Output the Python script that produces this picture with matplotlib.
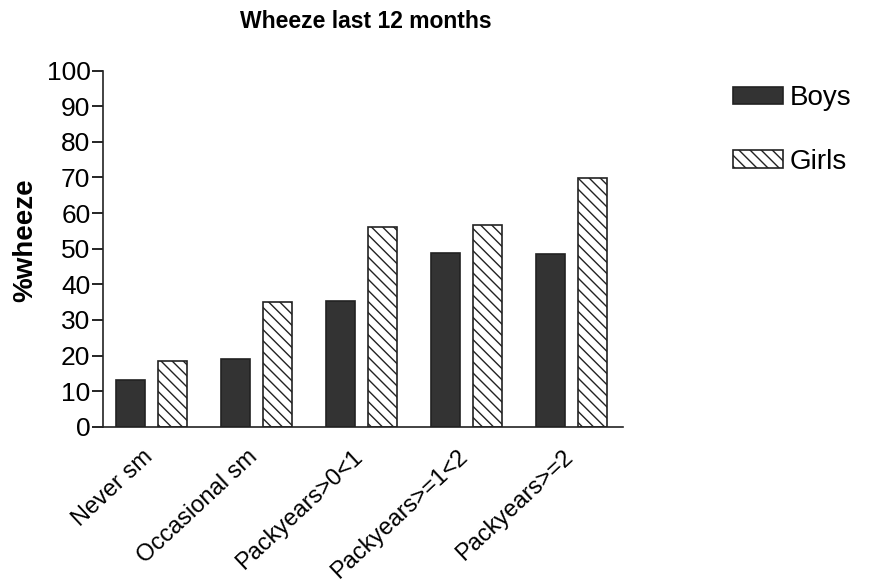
import matplotlib.pyplot as plt
import matplotlib.transforms as mtransforms
import numpy as np

plt.rcParams['font.family'] = ['Liberation Sans', 'DejaVu Sans']
plt.rcParams['hatch.linewidth'] = 1.0

# данные
categories = ['Never sm', 'Occasional sm', 'Packyears>0<1',
              'Packyears>=1<2', 'Packyears>=2']
boys = [13.1, 19.0, 35.3, 48.8, 48.6]
girls = [18.4, 35.0, 56.1, 56.7, 69.8]

x = np.arange(len(categories))
w = 0.276

fig = plt.figure(figsize=(8.69, 5.88), dpi=100)
ax = fig.add_axes([0.1185, 0.274, 0.598, 0.606])

ax.bar(x - 0.198, boys, w, color='#333333', edgecolor='#222222',
       lw=1.2, label='Boys')
ax.bar(x + 0.2, girls, w, color='white', edgecolor='#222222',
       hatch='\\\\\\', lw=1.2, label='Girls')

ax.set_xlim(-0.46, 4.49)
ax.set_ylim(0, 100)
ax.set_yticks(np.arange(0, 101, 10))
ax.set_xticks(x)
ax.set_xticklabels(categories, rotation=43, ha='right',
                   rotation_mode='anchor', fontsize=17)
ax.tick_params(axis='y', labelsize=19, length=8, width=1.2, pad=1)
ax.tick_params(axis='x', length=0, pad=8)
# подписи чуть левее и ниже
shift = mtransforms.ScaledTranslation(-0.09, -0.08, fig.dpi_scale_trans)
for lbl in ax.get_xticklabels():
    lbl.set_transform(lbl.get_transform() + shift)
for s in ['top', 'right']:
    ax.spines[s].set_visible(False)
for s in ['left', 'bottom']:
    ax.spines[s].set_linewidth(1.2)
    ax.spines[s].set_color('#222222')

ax.set_ylabel('%wheeze', fontsize=20, fontweight='bold')
ax.yaxis.set_label_coords(-0.125, 0.524)
fig.text(0.421, 0.963, 'Wheeze last 12 months', fontsize=16.5,
         fontweight='bold', ha='center', va='center')

fig.legend(loc='upper left', bbox_to_anchor=(0.843, 0.855),
           frameon=False, fontsize=20, handlelength=1.8,
           handleheight=0.6, labelspacing=1.35, handletextpad=0.25,
           borderpad=0, borderaxespad=0)

plt.savefig('out.png', dpi=100)
